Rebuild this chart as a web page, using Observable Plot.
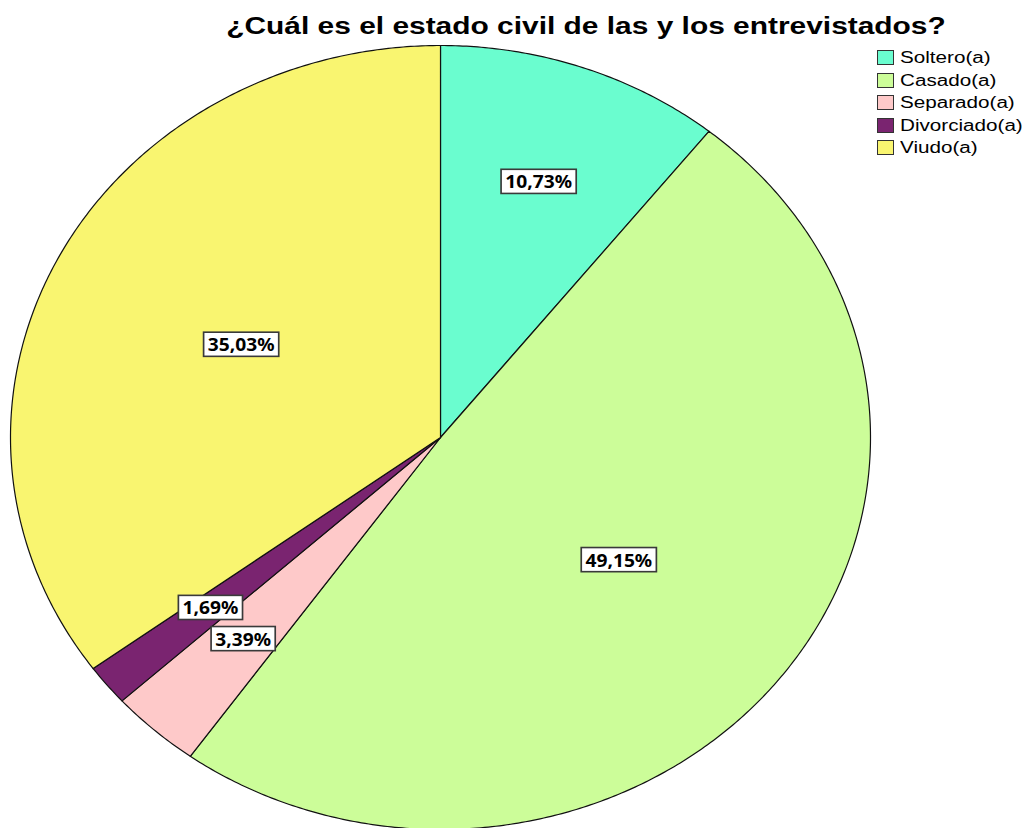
<!DOCTYPE html>
<html>
<head>
<meta charset="utf-8">
<script src="https://cdn.jsdelivr.net/npm/d3@7"></script>
<script src="https://cdn.jsdelivr.net/npm/@observablehq/plot@0.6"></script>
<style>
  body { margin: 0; background: #fff; font-family: "Liberation Sans", Arial, sans-serif; }
  #wrap { position: relative; width: 1026px; height: 828px; overflow: hidden; }
  #title { position: absolute; top: 15px; left: 586px; white-space: nowrap; font-weight: bold; font-size: 23px; line-height: 23px; color: #000; transform: translateX(-50%) scaleX(1.30); transform-origin: center; }
  .leg-row { position: absolute; left: 877px; height: 16px; }
  .leg-sw { position: absolute; left: 0; top: 0; width: 17px; height: 15px; box-sizing: border-box; border: 1px solid #333; }
  .leg-tx { position: absolute; left: 23px; top: -1px; font-size: 16px; line-height: 17px; white-space: nowrap; color: #000; transform: scaleX(1.29); transform-origin: left center; }
  svg text.lbl { font-family: "Liberation Sans", Arial, sans-serif; }
</style>
</head>
<body>
<div id="wrap">
  <div id="title"></div>
  <div id="legend"></div>
  <div id="chart"></div>
</div>
<script>
const title = "¿Cuál es el estado civil de las y los entrevistados?";
const categories = ["Soltero(a)", "Casado(a)", "Separado(a)", "Divorciado(a)", "Viudo(a)"];
const percents = [10.73, 49.15, 3.39, 1.69, 35.03];
const labels = ["10,73%", "49,15%", "3,39%", "1,69%", "35,03%"];
const colors = ["#6afdcf", "#ccfd99", "#fec9c9", "#7a2470", "#f9f570"];

document.getElementById("title").textContent = title;

// legend
const leg = document.getElementById("legend");
categories.forEach((c, i) => {
  const row = document.createElement("div");
  row.className = "leg-row";
  row.style.top = (50 + i * 22.6) + "px";
  const sw = document.createElement("div");
  sw.className = "leg-sw";
  sw.style.background = colors[i];
  const tx = document.createElement("div");
  tx.className = "leg-tx";
  tx.textContent = c;
  row.appendChild(sw); row.appendChild(tx);
  leg.appendChild(row);
});

// build slice polygons in unit coordinates (clockwise from 12 o'clock)
const total = d3.sum(percents);
let acc = 0;
const slices = [];
const labelData = [];
percents.forEach((p, i) => {
  const a0 = acc / total * 2 * Math.PI;
  acc += p;
  const a1 = acc / total * 2 * Math.PI;
  const pts = [{x: 0, y: 0}];
  const n = Math.max(4, Math.ceil((a1 - a0) / (Math.PI / 360)));
  for (let k = 0; k <= n; k++) {
    const a = a0 + (a1 - a0) * k / n;
    pts.push({x: Math.sin(a), y: Math.cos(a)});
  }
  pts.push({x: 0, y: 0});
  slices.push(pts);
  const am = (a0 + a1) / 2;
  const r = p > 20 ? 0.52 : 0.69;
  labelData.push({x: r * Math.sin(am), y: r * Math.cos(am), text: labels[i]});
});

const marks = slices.map((pts, i) =>
  Plot.line(pts, {x: "x", y: "y", fill: colors[i], stroke: "#111", strokeWidth: 1.2, strokeLinejoin: "round", curve: "linear"})
);
marks.push(Plot.text(labelData, {x: "x", y: "y", text: "text", fontSize: 16, fontWeight: "bold", fill: "#000", textAnchor: "middle", lineAnchor: "middle", className: "lbl"}));

const svg = Plot.plot({
  width: 1026,
  height: 828,
  margin: 0,
  x: {domain: [-1, 1], range: [10, 870], axis: null},
  y: {domain: [-1, 1], range: [829, 45], axis: null},
  style: {background: "transparent", overflow: "visible"},
  marks
});
document.getElementById("chart").appendChild(svg);

// add boxes behind labels and stretch labels horizontally
const ns = "http://www.w3.org/2000/svg";
svg.querySelectorAll("text").forEach(t => {
  const parent = t.parentNode;
  const g = document.createElementNS(ns, "g");
  parent.insertBefore(g, t);
  g.appendChild(t);
  const bb = g.getBBox();
  const cx = bb.x + bb.width / 2, cy = bb.y + bb.height / 2;
  const rect = document.createElementNS(ns, "rect");
  const padX = 3.5, h = 21;
  rect.setAttribute("x", bb.x - padX);
  rect.setAttribute("y", cy - h / 2);
  rect.setAttribute("width", bb.width + 2 * padX);
  rect.setAttribute("height", h);
  rect.setAttribute("fill", "#fff");
  rect.setAttribute("stroke", "#3a3a3a");
  rect.setAttribute("stroke-width", 1.4);
  g.insertBefore(rect, t);
  g.setAttribute("transform", `translate(${cx},${cy}) scale(1.2,1.15) translate(${-cx},${-cy})`);
});
</script>
</body>
</html>
